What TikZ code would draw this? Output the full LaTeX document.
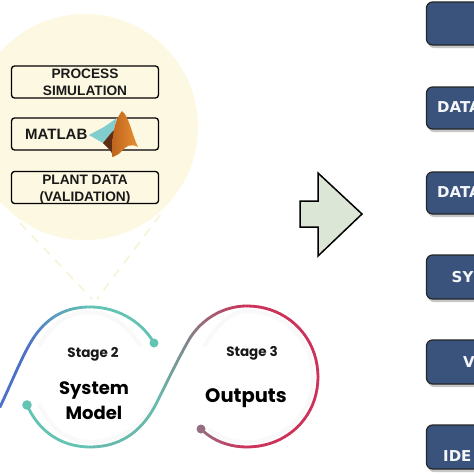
\documentclass[tikz,border=0pt]{standalone}
\usepackage{fontspec}
\setmainfont{Liberation Sans}
\newfontfamily\stagefont{Poppins}
\newfontfamily\boxfont{DejaVu Sans}
\definecolor{cream}{RGB}{253,248,225}
\definecolor{dashcream}{RGB}{247,243,214}
\definecolor{navy}{RGB}{58,83,125}
\definecolor{leaf}{RGB}{220,230,214}
\definecolor{teal1}{RGB}{100,196,180}
\definecolor{blue1}{RGB}{78,112,200}
\definecolor{grey1}{RGB}{130,130,135}
\definecolor{crim}{RGB}{205,50,90}
\definecolor{mauve}{RGB}{150,110,130}
\definecolor{logolight}{RGB}{130,205,205}
\definecolor{logodark}{RGB}{95,45,20}
\definecolor{logomid}{RGB}{190,100,30}
\definecolor{logobright}{RGB}{232,145,50}
\makeatletter
\newcommand{\bezseg}[3]{\bezsegi#1\relax{#2}{#3}}
\def\bezsegi#1,#2,#3,#4,#5,#6,#7,#8\relax#9{\bezsegii{#1}{#2}{#3}{#4}{#5}{#6}{#7}{#8}{#9}}
\newcommand{\bezsegii}[9]{\def\bza{#1}\def\bzb{#2}\def\bzc{#3}\def\bzd{#4}\def\bze{#5}\def\bzf{#6}\def\bzg{#7}\def\bzh{#8}\def\bzA{#9}\bezsegiii}
\newcommand{\bezsegiii}[1]{%
 \foreach \ii in {1,...,20}{%
  \pgfmathsetmacro{\ta}{(\ii-1)/20}\pgfmathsetmacro{\tb}{\ii/20}%
  \pgfmathsetmacro{\pct}{100-5*\ii+2.5}%
  \pgfmathsetmacro{\xa}{(1-\ta)^3*\bza+3*(1-\ta)^2*\ta*\bzc+3*(1-\ta)*\ta^2*\bze+\ta^3*\bzg}%
  \pgfmathsetmacro{\ya}{(1-\ta)^3*\bzb+3*(1-\ta)^2*\ta*\bzd+3*(1-\ta)*\ta^2*\bzf+\ta^3*\bzh}%
  \pgfmathsetmacro{\xb}{(1-\tb)^3*\bza+3*(1-\tb)^2*\tb*\bzc+3*(1-\tb)*\tb^2*\bze+\tb^3*\bzg}%
  \pgfmathsetmacro{\yb}{(1-\tb)^3*\bzb+3*(1-\tb)^2*\tb*\bzd+3*(1-\tb)*\tb^2*\bzf+\tb^3*\bzh}%
  \draw[curve,color=\bzA!\pct!#1] (\xa,\ya) -- (\xb,\yb);%
 }}
\makeatother
\tikzset{
 x=1pt,y=-1pt,
 curve/.style={line width=2.8pt,line cap=round},
 halo/.style={draw=black!2.5,line width=4pt,line cap=round},
 inbox/.style={draw=black,line width=1.3pt,rounded corners=3pt,fill=cream},
 inlabel/.style={font=\fontsize{13.7}{17}\selectfont\bfseries,align=center,text=black!90,inner sep=0pt},
 navybox/.style={draw=black!85,line width=1.2pt,rounded corners=6pt,fill=navy},
 navyshadow/.style={fill=black!22,rounded corners=6pt},
 navylabel/.style={font=\boxfont\fontsize{15}{17}\selectfont\bfseries,text=white!95!navy,anchor=west,inner sep=0pt},
 stagelabel/.style={font=\stagefont\fontsize{13.5}{15}\selectfont\bfseries,text=black!90,inner sep=0pt},
 titlelabel/.style={font=\stagefont\fontsize{18}{25}\selectfont\bfseries,align=center,inner sep=0pt},
 dashline/.style={draw=dashcream,line width=1.6pt,dash pattern=on 9pt off 8pt}
}
\begin{document}
\begin{tikzpicture}
\useasboundingbox (0,0) rectangle (474,474);
\clip (0,0) rectangle (474,474);
\fill[white] (0,0) rectangle (474,474);
% dashed callout
\draw[dashline] (20,223) -- (92,299);
\draw[dashline] (160,215) -- (97,299);
% bubble
\fill[cream] (85,127) circle[radius=113pt];
% bubble boxes
\node[inbox,minimum width=147pt,minimum height=32pt] (b1) at (85,82) {};
\node[inlabel] (t1) at (85,82.5) {PROCESS\\SIMULATION};
\node[inbox,minimum width=147pt,minimum height=32pt] (b2) at (85,134) {};
\node[inlabel,font=\fontsize{15}{17}\selectfont\bfseries,anchor=west] (t2) at (25,134.5) {MATLAB};
\node[inbox,minimum width=147pt,minimum height=32pt] (b3) at (85,187.5) {};
\node[inlabel] (t3) at (85,189.5) {PLANT DATA\\(VALIDATION)};
% MATLAB logo
\fill[logolight] (89,135) -- (104,127) -- (117,118) -- (113,132) -- (103,143) -- cycle;
\fill[logodark] (103,143) -- (112,132) -- (118,126) -- (114,157) -- (110,150) -- cycle;
\shade[left color=logomid,right color=logobright] (122,111) .. controls (129,116) and (132,135) .. (138,147) .. controls (130,143) and (126,146) .. (121,152) .. controls (118,155) and (115,156) .. (112,157) .. controls (112,140) and (113,122) .. (122,111) -- cycle;
% faint inner halos
\draw[halo] (140,345) .. controls (128,326) and (110,312) .. (90,312) .. controls (70,312) and (52,322) .. (40,345);
\draw[halo] (40,405) .. controls (50,428) and (68,442) .. (90,442) .. controls (118,442) and (140,428) .. (152,405);
\draw[halo] (205,345) .. controls (218,323) and (232,311) .. (247,311) .. controls (284,311) and (313,340) .. (313,377) .. controls (313,414) and (284,442) .. (247,442) .. controls (232,442) and (220,438) .. (210,430);
% curves
\bezseg{154,343,142,322,118,307,90,307}{teal1}{teal1}
\bezseg{90,307,60,307,41,322,27,349}{teal1}{blue1}
\bezseg{27,349,18,366,10,386,0,407}{blue1}{blue1}
\bezseg{27,405,38,430,60,447,90,447}{teal1}{teal1}
\bezseg{90,447,120,447,143,432,158,400}{teal1}{teal1!85!grey1}
\bezseg{158,400,168,380,180,355,190,338}{teal1!85!grey1}{grey1}
\bezseg{190,338,203,318,224,306,247,306}{grey1}{crim}
\bezseg{247,306,287,306,318,337,318,377}{crim}{crim}
\bezseg{318,377,318,417,287,447,247,447}{crim}{crim}
\bezseg{247,447,228,447,212,440,201,429}{crim}{mauve}
\fill[teal1] (154,343) circle[radius=4.5pt];
\fill[teal1] (27,405) circle[radius=4.8pt];
\fill[mauve] (201,429) circle[radius=4.5pt];
% stage text
\node[stagelabel] (s2) at (93,354) {Stage 2};
\node[titlelabel] (m2) at (94,401) {System\\Model};
\node[stagelabel] (s3) at (252,353.5) {Stage 3};
\node[titlelabel,font=\stagefont\fontsize{19.5}{25}\selectfont\bfseries] (m3) at (246,398) {Outputs};
% big arrow
\draw[draw=black,line width=1.5pt,fill=leaf,line join=miter] (300,201) -- (318,201) -- (318,173) -- (362,214) -- (318,256) -- (318,227) -- (300,227) -- cycle;
% right boxes
\foreach \ya/\yb in {2/45,87/129,172/214,255/299,340/384,425/469}{
  \fill[navyshadow] (428,\ya+3) rectangle (490,\yb+3);
  \draw[navybox] (426.5,\ya) rectangle (490,\yb);
}
\node[navylabel] (r2) at (437,107.5) {DATA};
\node[navylabel] (r3) at (437,192.5) {DATA};
\node[navylabel] (r4) at (451.5,277) {SY};
\node[navylabel] (r5) at (463,362) {V};
\node[navylabel] (r6) at (443,456) {IDE};
\end{tikzpicture}
\end{document}
